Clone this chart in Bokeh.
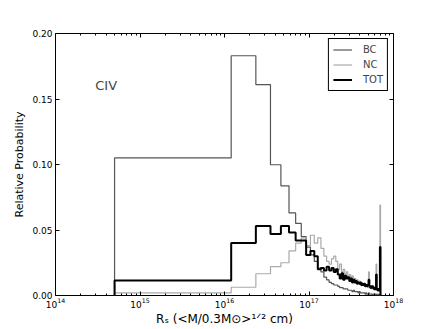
import numpy as np
from bokeh.plotting import figure
from bokeh.models import (Range1d, LinearAxis, LogAxis, FixedTicker, Label, Legend,
                          LegendItem, NumeralTickFormatter)
from bokeh.embed import file_html
from bokeh.resources import INLINE

# ---- data ----
BIN_START = 5e14
BIN_WIDTH = 1.15e16

bc = [0.105, 0.183, 0.161, 0.0998, 0.0837, 0.063, 0.055, 0.045, 0.037, 0.031,
      0.026, 0.021, 0.018, 0.014, 0.012, 0.010, 0.009, 0.008, 0.008, 0.007,
      0.006, 0.006, 0.005, 0.005, 0.005, 0.004, 0.004, 0.004, 0.003, 0.004,
      0.003, 0.003, 0.003, 0.002, 0.003, 0.002, 0.002, 0.002, 0.002, 0.002,
      0.001, 0.002, 0.001, 0.001, 0.002, 0.001, 0.001, 0.001, 0.001, 0.0005,
      0.001, 0.001, 0.0005, 0.001, 0.0005, 0.001, 0.0005, 0.0005, 0.001, 0.0005,
      0.001]
nc = [0.002, 0.0063, 0.0166, 0.022, 0.025, 0.034, 0.040, 0.044, 0.038, 0.046,
      0.040, 0.044, 0.036, 0.030, 0.026, 0.024, 0.028, 0.030, 0.026, 0.020,
      0.024, 0.018, 0.020, 0.016, 0.018, 0.014, 0.016, 0.012, 0.015, 0.011,
      0.013, 0.010, 0.012, 0.009, 0.011, 0.008, 0.010, 0.008, 0.009, 0.007,
      0.009, 0.007, 0.008, 0.006, 0.018, 0.006, 0.007, 0.005, 0.006, 0.005,
      0.006, 0.004, 0.005, 0.004, 0.024, 0.004, 0.005, 0.003, 0.004, 0.003,
      0.069]
tot = [0.0115, 0.040, 0.053, 0.047, 0.053, 0.048, 0.042, 0.042, 0.031, 0.034,
       0.030, 0.020, 0.021, 0.019, 0.022, 0.019, 0.021, 0.018, 0.020, 0.016,
       0.013, 0.017, 0.012, 0.015, 0.013, 0.014, 0.011, 0.013, 0.010, 0.012,
       0.010, 0.011, 0.009, 0.010, 0.009, 0.010, 0.008, 0.009, 0.008, 0.009,
       0.007, 0.008, 0.007, 0.008, 0.012, 0.007, 0.006, 0.007, 0.006, 0.007,
       0.006, 0.005, 0.006, 0.005, 0.016, 0.005, 0.004, 0.005, 0.004, 0.005,
       0.037]

x_major = [1e14, 1e15, 1e16, 1e17, 1e18]
x_minor = [m * 10.0 ** e for e in range(14, 18) for m in range(2, 10)]
y_major = [0.0, 0.05, 0.10, 0.15, 0.20]

edges = BIN_START + BIN_WIDTH * np.arange(len(bc) + 1)


def outline(vals):
    xs = np.repeat(edges, 2)
    ys = np.concatenate([[0.0], np.repeat(np.asarray(vals, dtype=float), 2), [0.0]])
    return xs, ys


FONT = "DejaVu Sans"
W, H = 436, 329
L, R, T, B = 55, 43, 33, 34

p = figure(width=W, height=H, x_axis_type="log",
           x_range=Range1d(1e14, 1e18), y_range=Range1d(0, 0.2),
           output_backend="svg", toolbar_location=None,
           min_border_left=L, min_border_right=R,
           min_border_top=T, min_border_bottom=B)
p.grid.visible = False
p.outline_line_color = "black"
p.outline_line_width = 1
p.outline_line_alpha = 1

xt = FixedTicker(ticks=x_major, minor_ticks=x_minor)
yt = FixedTicker(ticks=y_major)

xa = p.xaxis[0]
xa.ticker = xt
xa.axis_label = "R\u209b (<M/0.3M\u2299>\u00b9\u141f\u00b2 cm)"
ya = p.yaxis[0]
ya.ticker = yt
ya.formatter = NumeralTickFormatter(format="0.00")
ya.axis_label = "Relative Probability"

top = LogAxis(ticker=xt)
right = LinearAxis(ticker=yt)
p.add_layout(top, "above")
p.add_layout(right, "right")

for ax in (xa, ya, top, right):
    ax.axis_line_color = None
    ax.major_tick_in = 4
    ax.major_tick_out = 0
    ax.minor_tick_in = 2
    ax.minor_tick_out = 0
    ax.major_tick_line_color = "black"
    ax.major_label_text_font = FONT
    ax.major_label_text_font_size = "9px"
    ax.major_label_text_color = "black"
    ax.major_label_standoff = 3
    ax.axis_label_text_font = FONT
    ax.axis_label_text_font_size = "11px"
    ax.axis_label_text_font_style = "normal"
    ax.axis_label_text_color = "black"
    ax.axis_label_standoff = 3
xa.axis_label_text_font_size = "12px"
xa.axis_label_standoff = 1
xa.major_label_standoff = 2
for ax in (ya, right):
    ax.minor_tick_line_color = None
top.major_label_text_color = None
right.major_label_text_color = None

xs, ys = outline(bc)
r_bc = p.line(xs, ys, line_color="#555555", line_width=1.2)
xs, ys = outline(nc)
r_nc = p.line(xs, ys, line_color="#aaaaaa", line_width=1.2)
xs, ys = outline(tot)
r_tot = p.line(xs, ys, line_color="black", line_width=2)

legend = Legend(items=[LegendItem(label="BC", renderers=[r_bc]),
                       LegendItem(label="NC", renderers=[r_nc]),
                       LegendItem(label="TOT", renderers=[r_tot])],
                location="top_right")
legend.border_line_color = "black"
legend.border_line_width = 1
legend.border_line_alpha = 1
legend.background_fill_alpha = 1
legend.label_text_font = FONT
legend.label_text_font_size = "10px"
legend.glyph_width = 19
legend.glyph_height = 13
legend.label_height = 13
legend.spacing = 2
legend.padding = 4
legend.margin = 5
legend.label_standoff = 11
p.add_layout(legend)

p.add_layout(Label(x=10 ** 14.47, y=0.1603, text="CIV", text_font=FONT,
                   text_font_size="13px", text_baseline="alphabetic"))

open("out.html", "w").write(file_html(p, INLINE))
